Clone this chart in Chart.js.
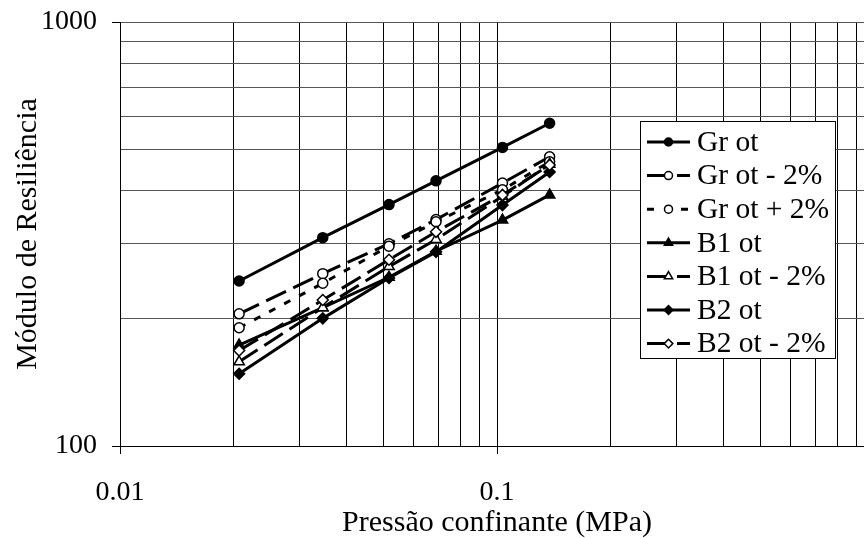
<!DOCTYPE html>
<html>
<head>
<meta charset="utf-8">
<title>Módulo de Resiliência</title>
<script src="https://cdn.jsdelivr.net/npm/chart.js@4.4.1/dist/chart.umd.min.js"></script>
<style>
  html, body { margin: 0; padding: 0; background: #fff; overflow: hidden; }
  #wrap { width: 864px; height: 538px; overflow: hidden; }
  canvas { display: block; }
</style>
</head>
<body>
<div id="wrap"><canvas id="chart" width="882" height="538"></canvas></div>
<script>
// pressões confinantes (MPa)
const pressoes = [0.0207, 0.0345, 0.0517, 0.0689, 0.1034, 0.1379];

// módulo de resiliência de cada mistura
const grOt      = [245, 310, 371, 422, 506, 577];
const grOtMenos = [205, 255, 300, 342, 417, 481];
const grOtMais  = [190, 242, 296, 338, 402, 468];
const b1Ot      = [173, 212, 250, 288, 341, 391];
const b1OtMenos = [158, 212, 265, 307, 388, 462];
const b2Ot      = [148, 200, 249, 287, 370, 443];
const b2OtMenos = [168, 221, 275, 320, 391, 460];

const rotulos = ['Gr ot', 'Gr ot - 2%', 'Gr ot + 2%', 'B1 ot', 'B1 ot - 2%', 'B2 ot', 'B2 ot - 2%'];
const valores = [grOt, grOtMenos, grOtMais, b1Ot, b1OtMenos, b2Ot, b2OtMenos];

// linhas de grade dos eixos logarítmicos
const gradeX = [0.01, 0.02, 0.03, 0.04, 0.05, 0.06, 0.07, 0.08, 0.09,
                0.1, 0.2, 0.3, 0.4, 0.5, 0.6, 0.7, 0.8, 0.9, 1];
const gradeY = [100, 200, 300, 400, 500, 600, 700, 800, 900, 1000];

const tracoLongo = [22, 8];
const tracoCurto = [7, 10];

// aparência de cada série
const estilos = [
  { marca: 'circle',   cheio: true,  raio: 5,   traco: [] },
  { marca: 'circle',   cheio: false, raio: 5,   traco: tracoLongo },
  { marca: 'circle',   cheio: false, raio: 5,   traco: tracoCurto },
  { marca: 'triangle', cheio: true,  raio: 6,   traco: [] },
  { marca: 'triangle', cheio: false, raio: 6,   traco: tracoLongo },
  { marca: 'rectRot',  cheio: true,  raio: 5.5, traco: [] },
  { marca: 'rectRot',  cheio: false, raio: 5.5, traco: tracoLongo }
];

const fonte = '"Liberation Serif", "Times New Roman", serif';
Chart.defaults.font.family = fonte;
Chart.defaults.color = '#000';

function ehDecada(v) {
  const l = Math.log10(v);
  return Math.abs(l - Math.round(l)) < 1e-6;
}

const datasets = rotulos.map((rotulo, i) => {
  const e = estilos[i];
  return {
    label: rotulo,
    data: pressoes.map((p, j) => ({ x: p, y: valores[i][j] })),
    showLine: true,
    borderColor: '#000',
    borderWidth: 3,
    borderDash: e.traco,
    pointStyle: e.marca,
    pointRadius: e.raio,
    pointHoverRadius: e.raio,
    pointBackgroundColor: e.cheio ? '#000' : '#fff',
    pointBorderColor: '#000',
    pointBorderWidth: 1.5,
    order: -i
  };
});

// desenha uma marca igual às da série na legenda
function marca(ctx, tipo, x, y, r, cheio) {
  ctx.beginPath();
  if (tipo === 'circle') {
    ctx.arc(x, y, r, 0, Math.PI * 2);
  } else if (tipo === 'triangle') {
    for (let k = 0; k < 3; k++) {
      const a = k * 2 * Math.PI / 3;
      const px = x + Math.sin(a) * r, py = y - Math.cos(a) * r;
      k ? ctx.lineTo(px, py) : ctx.moveTo(px, py);
    }
    ctx.closePath();
  } else {
    ctx.moveTo(x - r, y); ctx.lineTo(x, y - r); ctx.lineTo(x + r, y); ctx.lineTo(x, y + r);
    ctx.closePath();
  }
  ctx.fillStyle = cheio ? '#000' : '#fff';
  ctx.fill();
  ctx.lineWidth = 1.5;
  ctx.strokeStyle = '#000';
  ctx.stroke();
}

// legenda em caixa dentro da área do gráfico
const caixaLegenda = {
  id: 'caixaLegenda',
  afterDraw(chart) {
    const ctx = chart.ctx;
    ctx.save();
    ctx.fillStyle = '#fff';
    ctx.fillRect(640, 121, 195, 237);
    ctx.strokeStyle = '#000';
    ctx.lineWidth = 1;
    ctx.strokeRect(640.5, 121.5, 195, 237);
    ctx.font = '29.5px ' + fonte;
    ctx.textBaseline = 'middle';
    chart.data.datasets.forEach((ds, i) => {
      const y = 142 + i * 33.6;
      const e = estilos[i];
      ctx.setLineDash(ds.borderDash);
      ctx.lineWidth = 3;
      ctx.strokeStyle = '#000';
      ctx.beginPath();
      ctx.moveTo(647, y);
      ctx.lineTo(690, y);
      ctx.stroke();
      ctx.setLineDash([]);
      marca(ctx, e.marca, 668.5, y, e.raio * 0.8, e.cheio);
      ctx.fillStyle = '#000';
      ctx.fillText(ds.label, 697, y + 1);
    });
    ctx.restore();
  }
};

const marcaDecada = c => (c.tick && ehDecada(c.tick.value)) ? '#000' : 'rgba(0,0,0,0)';

new Chart(document.getElementById('chart'), {
  type: 'scatter',
  data: { datasets },
  plugins: [caixaLegenda],
  options: {
    responsive: false,
    animation: false,
    layout: { padding: { top: 22, right: 8, bottom: 0, left: 0 } },
    plugins: {
      legend: { display: false },
      tooltip: { enabled: false }
    },
    scales: {
      x: {
        type: 'logarithmic',
        min: 0.01,
        max: 1,
        afterBuildTicks: s => { s.ticks = gradeX.map(v => ({ value: v })); },
        ticks: {
          autoSkip: false,
          maxRotation: 0,
          padding: 22,
          font: { size: 28 },
          callback: v => ehDecada(v) ? String(Number(v.toPrecision(1))) : ''
        },
        grid: { color: '#000', lineWidth: 1, tickLength: 8, tickColor: marcaDecada },
        border: { color: '#000', width: 1 },
        title: {
          display: true,
          text: 'Pressão confinante (MPa)',
          font: { size: 30, lineHeight: 1 },
          padding: { top: 0, bottom: 0 }
        },
        afterFit: s => { s.height = 92; s.paddingLeft = 0; s.paddingRight = 0; }
      },
      y: {
        type: 'logarithmic',
        min: 100,
        max: 1000,
        afterBuildTicks: s => { s.ticks = gradeY.map(v => ({ value: v })); },
        ticks: {
          autoSkip: false,
          padding: 15,
          font: { size: 28 },
          callback: v => ehDecada(v) ? String(Math.round(v)) : ''
        },
        grid: { color: '#555', lineWidth: 1, tickLength: 8, tickColor: marcaDecada },
        border: { color: '#000', width: 1 },
        title: {
          display: true,
          text: 'Módulo de Resiliência',
          font: { size: 30, lineHeight: 1 },
          padding: { top: 13, bottom: 0 }
        },
        afterFit: s => { s.width = 120; s.paddingTop = 0; s.paddingBottom = 0; }
      }
    }
  }
});
</script>
</body>
</html>
